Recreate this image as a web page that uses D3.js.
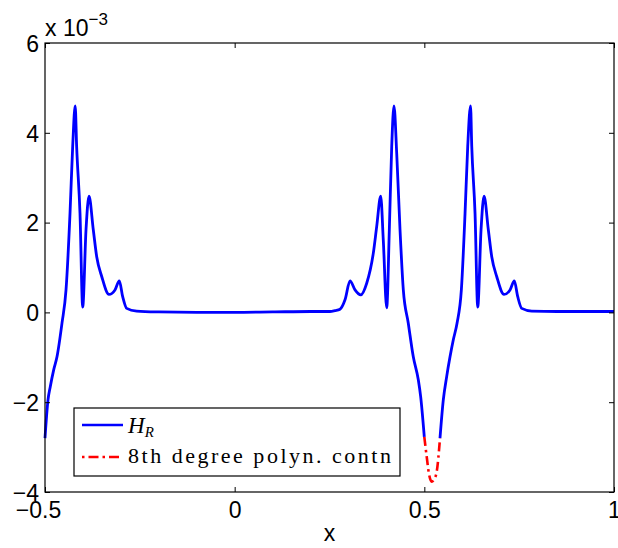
<!DOCTYPE html>
<html>
<head>
<meta charset="utf-8">
<script src="https://cdn.jsdelivr.net/npm/d3@7"></script>
<style>
  body { margin: 0; background: #fff; }
  svg { font-family: "Liberation Sans", Arial, sans-serif; }
</style>
</head>
<body>
<div id="container"></div>
<script>
// values of H_R are in units of 1e-3
const hrLeftX = [-0.5, -0.4921, -0.486, -0.4771, -0.4684, -0.4552, -0.4446, -0.4341, -0.427, -0.4204,
  -0.4166, -0.4077, -0.4006, -0.3919, -0.384, -0.3727, -0.3637, -0.3505, -0.3313, -0.3155,
  -0.3041, -0.2952, -0.2846, -0.2583, -0.2, -0.1, 0, 0.1, 0.2, 0.2513,
  0.2645, 0.2777, 0.2909, 0.3041, 0.3173, 0.3323, 0.3481, 0.3655, 0.3744, 0.385,
  0.3918, 0.4008, 0.4077, 0.414, 0.42, 0.4272, 0.4359, 0.4446, 0.4577, 0.4709,
  0.4841, 0.4904, 0.4999];
const hrLeftY = [-2.8, -1.95, -1.65, -1.28, -0.99, -0.24, 0.5, 2.2, 3.7, 4.6,
  3.7, 2.2, 0.12, 1.84, 2.59, 1.84, 1.24, 0.8, 0.4, 0.5,
  0.7, 0.35, 0.09, 0.03, 0.01, 0.0, 0.0, 0.01, 0.02, 0.02,
  0.04, 0.07, 0.28, 0.7, 0.5, 0.39, 0.65, 1.32, 1.91, 2.59,
  1.61, 0.1, 1.84, 3.69, 4.6, 3.54, 1.84, 0.5, -0.24, -0.99,
  -1.5, -1.88, -2.77];

const hrRightX = [0.5413, 0.55, 0.5589, 0.5677, 0.5764, 0.5862, 0.5976, 0.6073, 0.6144, 0.6218,
  0.625, 0.6337, 0.6408, 0.6495, 0.6574, 0.6687, 0.6777, 0.6908, 0.7101, 0.7259,
  0.7372, 0.7462, 0.7567, 0.7831, 0.85, 0.9, 1.0];
const hrRightY = [-2.8, -1.95, -1.43, -0.99, -0.61, -0.24, 0.5, 2.2, 3.7, 4.6,
  3.7, 2.2, 0.12, 1.84, 2.59, 1.84, 1.24, 0.8, 0.4, 0.5,
  0.7, 0.35, 0.09, 0.03, 0.02, 0.02, 0.02];

const polyX = [0.4999, 0.5062, 0.5123, 0.5194, 0.5255, 0.5326, 0.5413];
const polyY = [-2.77, -3.21, -3.6, -3.77, -3.72, -3.55, -2.8];

const xTicks = [-0.5, 0, 0.5, 1];
const xTickLabels = ["\u22120.5", "0", "0.5", "1"];
const yTicks = [-4, -2, 0, 2, 4, 6];
const yTickLabels = ["\u22124", "\u22122", "0", "2", "4", "6"];
const legendLabels = ["8th degree polyn. contn"];

const W = 618, H = 548;
const margin = { top: 43, right: 4, bottom: 56, left: 45 };
const w = W - margin.left - margin.right;
const h = H - margin.top - margin.bottom;

const svg = d3.select("#container").append("svg")
  .attr("width", W).attr("height", H);

const g = svg.append("g")
  .attr("transform", `translate(${margin.left},${margin.top})`);

const xScale = d3.scaleLinear().domain([-0.5, 1]).range([0, w]);
const yScale = d3.scaleLinear().domain([-4, 6]).range([h, 0]);

const zip = (xs, ys) => xs.map((x, i) => ({ x: x, y: ys[i] }));

const line = d3.line()
  .x((d) => xScale(d.x))
  .y((d) => yScale(d.y))
  .curve(d3.curveMonotoneX);

// curves
g.append("path")
  .datum(zip(polyX, polyY))
  .attr("fill", "none")
  .attr("stroke", "#ff0000")
  .attr("stroke-width", 2.6)
  .attr("stroke-dasharray", "9,4,2.5,4")
  .attr("d", line);

[zip(hrLeftX, hrLeftY), zip(hrRightX, hrRightY)].forEach((seg) => {
  g.append("path")
    .datum(seg)
    .attr("fill", "none")
    .attr("stroke", "#0000ff")
    .attr("stroke-width", 2.8)
    .attr("stroke-linejoin", "round")
    .attr("d", line);
});

// box
g.append("rect")
  .attr("width", w).attr("height", h)
  .attr("fill", "none").attr("stroke", "#000").attr("stroke-width", 1.2);

// ticks (inside, all four sides)
const tickLen = 5;
const xb = g.append("g").attr("transform", `translate(0,${h})`)
  .call(d3.axisBottom(xScale).tickValues(xTicks).tickSize(-tickLen)
    .tickFormat((d, i) => xTickLabels[i]));
xb.selectAll("text").attr("y", 26).attr("dy", null)
  .attr("font-size", 23).attr("fill", "#000")
  .attr("dx", (d, i) => (i === 0 ? -7 : 0));
g.append("g")
  .call(d3.axisTop(xScale).tickValues(xTicks).tickSize(-tickLen).tickFormat(""));

const yl = g.append("g")
  .call(d3.axisLeft(yScale).tickValues(yTicks).tickSize(-tickLen)
    .tickFormat((d, i) => yTickLabels[i]));
yl.selectAll("text").attr("x", -6).attr("dy", "0.36em")
  .attr("font-size", 23).attr("fill", "#000");
g.append("g").attr("transform", `translate(${w},0)`)
  .call(d3.axisRight(yScale).tickValues(yTicks).tickSize(-tickLen).tickFormat(""));

g.selectAll(".domain").remove();
g.selectAll(".tick line").attr("stroke", "#000").attr("stroke-width", 1);
g.selectAll(".tick text").style("font-family", "'Liberation Sans', Arial, sans-serif");

// exponent
const expo = g.append("text").attr("x", 0).attr("y", -7)
  .attr("font-size", 23).attr("fill", "#000");
expo.append("tspan").text("x 10");
expo.append("tspan").attr("dy", -11).attr("font-size", 17).text("\u22123");

// x label
g.append("text")
  .attr("x", xScale(0.25)).attr("y", h + 49)
  .attr("text-anchor", "middle")
  .attr("font-size", 23)
  .text("x");

// legend
const serif = "'Liberation Serif', 'DejaVu Serif', serif";
const lg = g.append("g").attr("transform", "translate(29,365)");
lg.append("rect")
  .attr("width", 326).attr("height", 68)
  .attr("fill", "#fff").attr("stroke", "#000").attr("stroke-width", 1.2);
lg.append("line")
  .attr("x1", 8).attr("x2", 49).attr("y1", 17).attr("y2", 17)
  .attr("stroke", "#0000ff").attr("stroke-width", 2.5);
lg.append("line")
  .attr("x1", 8).attr("x2", 49).attr("y1", 49).attr("y2", 49)
  .attr("stroke", "#ff0000").attr("stroke-width", 2.5)
  .attr("stroke-dasharray", "2.5,4,10,4");
const hr = lg.append("text").attr("x", 54).attr("y", 25)
  .style("font-family", serif)
  .attr("font-style", "italic").attr("font-size", 23);
hr.append("tspan").text("H");
hr.append("tspan").attr("dy", 4).attr("font-size", 15).text("R");
lg.append("text").attr("x", 54).attr("y", 55)
  .style("font-family", serif)
  .attr("font-size", 22)
  .attr("textLength", 263).attr("lengthAdjust", "spacing")
  .text(legendLabels[0]);
</script>
</body>
</html>
